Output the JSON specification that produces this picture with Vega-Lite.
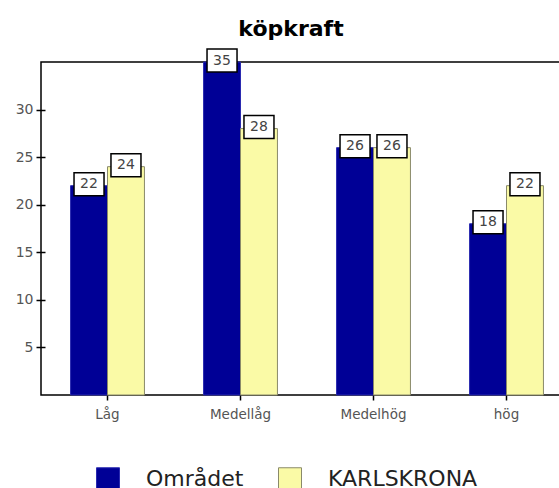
{
  "$schema": "https://vega.github.io/schema/vega-lite/v6.json",
  "autosize": {"type": "none"},
  "padding": {"left": 41, "top": 62, "right": 0, "bottom": 93},
  "width": 532,
  "height": 333,
  "background": "white",
  "config": {"view": {"stroke": "#000", "strokeWidth": 1.5}, "font": "DejaVu Sans"},
  "title": {"text": "köpkraft", "fontSize": 22, "fontWeight": "bold", "color": "#000", "anchor": "middle", "frame": "group", "dx": -16, "offset": 5},
  "data": {"values": [
    {"kategori": "Låg", "serie": "Området", "varde": 22},
    {"kategori": "Låg", "serie": "KARLSKRONA", "varde": 24},
    {"kategori": "Medellåg", "serie": "Området", "varde": 35},
    {"kategori": "Medellåg", "serie": "KARLSKRONA", "varde": 28},
    {"kategori": "Medelhög", "serie": "Området", "varde": 26},
    {"kategori": "Medelhög", "serie": "KARLSKRONA", "varde": 26},
    {"kategori": "hög", "serie": "Området", "varde": 18},
    {"kategori": "hög", "serie": "KARLSKRONA", "varde": 22}
  ]},
  "encoding": {
    "x": {"field": "kategori", "type": "nominal", "sort": ["Låg", "Medellåg", "Medelhög", "hög"],
      "scale": {"paddingInner": 0, "paddingOuter": 0},
      "axis": {"title": null, "labelAngle": 0, "domain": false, "grid": false, "tickSize": 5, "tickColor": "#000", "tickWidth": 1.5, "labelPadding": 7, "labelFontSize": 13.5, "labelColor": "#555"}},
    "xOffset": {"field": "serie", "type": "nominal", "sort": ["Området", "KARLSKRONA"], "scale": {"paddingInner": 0, "paddingOuter": 0.8}},
    "y": {"field": "varde", "type": "quantitative", "scale": {"domain": [0, 35], "nice": false},
      "axis": {"title": null, "values": [5, 10, 15, 20, 25, 30], "domain": false, "grid": false, "offset": -4, "tickSize": 9, "tickWidth": 1.5, "tickColor": "#000", "labelPadding": 3, "labelFontSize": 14, "labelColor": "#555"}}
  },
  "layer": [
    {
      "mark": {"type": "bar", "strokeWidth": 1},
      "encoding": {
        "fill": {"field": "serie", "type": "nominal", "sort": ["Området", "KARLSKRONA"],
          "scale": {"domain": ["Området", "KARLSKRONA"], "range": ["#000096", "#FAFAA6"]},
          "legend": {"orient": "none", "legendX": 55, "legendY": 405, "direction": "horizontal", "title": null, "symbolType": "square", "symbolSize": 529, "symbolStrokeWidth": 1, "labelFontSize": 22, "labelColor": "#222", "labelOffset": 26, "columnPadding": 32, "padding": 0, "symbolOpacity": 1}},
        "stroke": {"field": "serie", "type": "nominal", "sort": ["Området", "KARLSKRONA"],
          "scale": {"domain": ["Området", "KARLSKRONA"], "range": ["#2a2ab0", "#8a8a6a"]}, "legend": null}
      }
    },
    {
      "transform": [{"filter": "datum.serie == 'Området'"}],
      "layer": [
        {"mark": {"type": "point", "shape": "M-1,-0.7667H1V0.7667H-1Z", "size": 900, "filled": true, "fill": "white", "stroke": "black", "strokeWidth": 1.5, "opacity": 1, "xOffset": -3.5, "yOffset": -1.5}},
        {"mark": {"type": "text", "fontSize": 14, "color": "#444", "xOffset": -3.5, "yOffset": -1.5, "baseline": "middle", "align": "center"}, "encoding": {"text": {"field": "varde", "type": "quantitative"}}}
      ]
    },
    {
      "transform": [{"filter": "datum.serie == 'KARLSKRONA'"}],
      "layer": [
        {"mark": {"type": "point", "shape": "M-1,-0.7667H1V0.7667H-1Z", "size": 900, "filled": true, "fill": "white", "stroke": "black", "strokeWidth": 1.5, "opacity": 1, "xOffset": 4, "yOffset": -1.5}},
        {"mark": {"type": "text", "fontSize": 14, "color": "#444", "xOffset": 4, "yOffset": -1.5, "baseline": "middle", "align": "center"}, "encoding": {"text": {"field": "varde", "type": "quantitative"}}}
      ]
    }
  ]
}
